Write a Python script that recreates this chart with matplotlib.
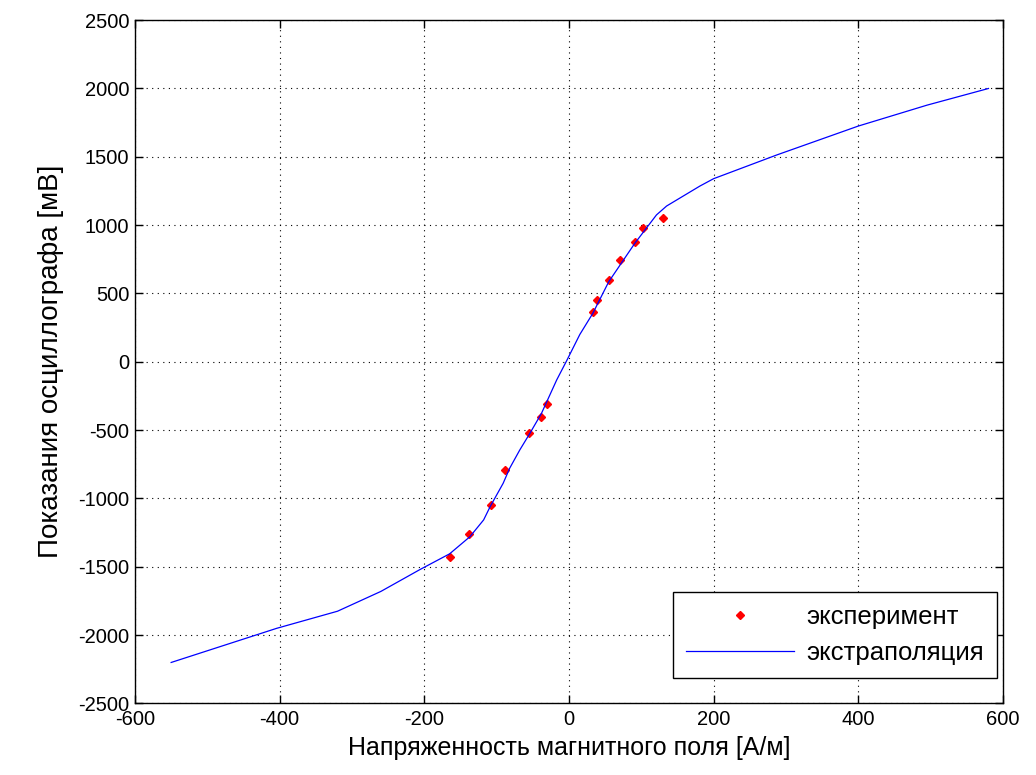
import matplotlib
matplotlib.use('Agg')
from matplotlib import pyplot as plt

# experimental points: field strength [A/m] vs oscilloscope reading [mV]
exp_h = [-165, -138, -108, -88, -55, -38, -30, 33, 39, 55, 70, 91, 103, 130]
exp_b = [-1430, -1262, -1045, -792, -523, -402, -311, 362, 452, 598, 745, 874, 977, 1054]

# extrapolated curve
line_h = [-550, -404, -320, -260, -206, -165, -137, -118, -109, -91, -82, -68, -54,
          -38, -17, -3, 15, 33, 55, 91, 121, 135, 181, 200, 287, 400, 495, 580]
line_b = [-2200, -1950, -1825, -1680, -1520, -1405, -1280, -1157, -1060, -889, -779,
          -645, -523, -377, -133, 10, 200, 355, 586, 867, 1075, 1140, 1286, 1340,
          1513, 1725, 1878, 2000]

plt.rcParams['font.family'] = ['Liberation Sans', 'DejaVu Sans']
plt.rcParams['axes.unicode_minus'] = False

fig = plt.figure(figsize=(10.36, 7.75), dpi=100)
ax = fig.add_axes([0.1303, 0.0923, 0.8378, 0.8817])

ax.plot(exp_h, exp_b, 'rD', markersize=4.5, label='эксперимент')
ax.plot(line_h, line_b, '-', color='#0000ff', linewidth=0.9, label='экстраполяция')

ax.set_xlim(-600, 600)
ax.set_ylim(-2500, 2500)
ax.set_xticks(range(-600, 601, 200))
ax.set_yticks(range(-2500, 2501, 500))
ax.tick_params(direction='in', top=True, right=True, length=6, width=1, labelsize=14.5)
ax.tick_params(axis='x', pad=5)
ax.tick_params(axis='y', pad=4)
ax.grid(True, linestyle=(0, (1, 4)), color='black', linewidth=0.8)
for s in ax.spines.values():
    s.set_linewidth(1)

ax.set_xlabel('Напряженность магнитного поля [А/м]', fontsize=18, labelpad=5)
ax.set_ylabel('Показания осциллографа [мВ]', fontsize=20, labelpad=10)

leg = ax.legend(loc='lower right', bbox_to_anchor=(0.993, 0.038), borderaxespad=0,
                fancybox=False, edgecolor='black', framealpha=1, handlelength=4.2,
                handletextpad=0.5, borderpad=0.5, labelspacing=0.45, fontsize=18.5)
leg.get_frame().set_linewidth(1)

fig.savefig('out.png', dpi=100)
